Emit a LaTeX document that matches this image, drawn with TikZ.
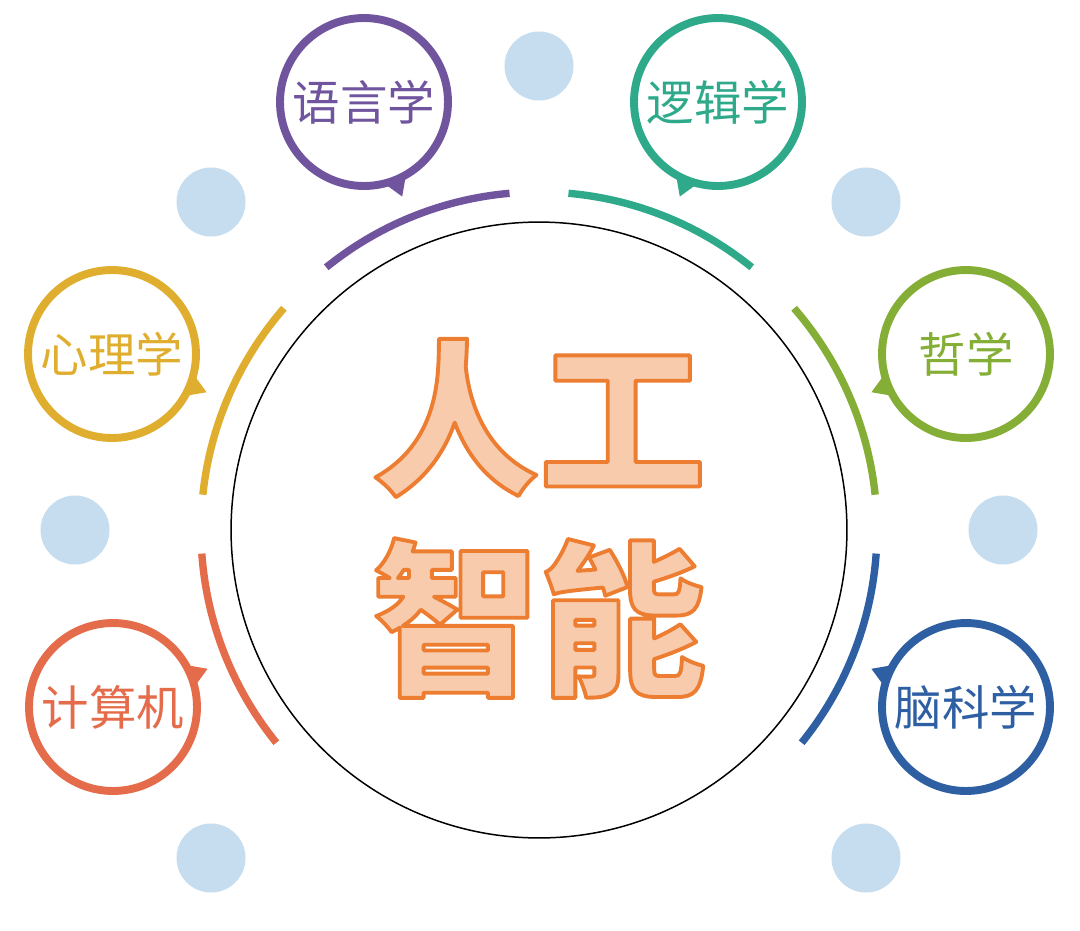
\documentclass[tikz,border=0pt]{standalone}
\usepackage{fontspec}
\usepackage{xcolor}
\newfontfamily\cjk{Noto Sans CJK SC}
\usetikzlibrary{calc,positioning,shapes}
\definecolor{yuyanc}{HTML}{70549E}
\definecolor{luojic}{HTML}{2EAA8A}
\definecolor{xinlic}{HTML}{E0AE2E}
\definecolor{zhexuec}{HTML}{84AE35}
\definecolor{jisuanc}{HTML}{E46C4B}
\definecolor{naokec}{HTML}{2E5FA3}
\definecolor{dotblue}{HTML}{C6DDF0}
\definecolor{peach}{HTML}{F8CBAD}
\newcommand\strokedtext[1]{\special{pdf:literal direct 1 j 1 J 2.2 w 0.929 0.490 0.192 RG 2 Tr}#1\special{pdf:literal direct 0 Tr}}
\tikzset{
bubble/.style={
  circle,
  draw=#1,
  line width=4.5pt,
  minimum size=3.36cm,
  inner sep=0pt,
  text=#1,
  font=\cjk\fontsize{27}{27}\selectfont
},
ring/.style={line width=4.2pt, draw=#1},
bluedot/.style={circle, fill=dotblue, minimum size=1.38cm, inner sep=0pt},
bigtext/.style={text=peach, inner sep=0pt, font=\cjk\bfseries\fontsize{95}{95}\selectfont},
}

\begin{document}
\begin{tikzpicture}[x=0.02cm, y=0.02cm]
    \useasboundingbox (0,0) rectangle (1080,-931);
    \node[circle, draw, line width=0.85pt, minimum size=12.32cm] (ai) at (539,-530) {};
    \node[bigtext] (rengong) at (539,-418) {\strokedtext{人工}};
    \node[bigtext] (zhineng) at (539,-618) {\strokedtext{智能}};

    \node[bluedot] (d1) at (539,-66) {};
    \node[bluedot] (d2) at (211,-202) {};
    \node[bluedot] (d3) at (866,-202) {};
    \node[bluedot] (d4) at (75,-530) {};
    \node[bluedot] (d5) at (1003,-530) {};
    \node[bluedot] (d6) at (211,-858) {};
    \node[bluedot] (d7) at (866,-858) {};

    \draw[ring=yuyanc] ($(ai)+(95:338)$) arc[start angle=95, end angle=129, radius=338];
    \draw[ring=luojic] ($(ai)+(51:338)$) arc[start angle=51, end angle=85, radius=338];
    \draw[ring=zhexuec] ($(ai)+(6:338)$) arc[start angle=6, end angle=41, radius=338];
    \draw[ring=naokec] ($(ai)+(-39:338)$) arc[start angle=-39, end angle=-4, radius=338];
    \draw[ring=jisuanc] ($(ai)+(184:338)$) arc[start angle=184, end angle=219, radius=338];
    \draw[ring=xinlic] ($(ai)+(139:338)$) arc[start angle=139, end angle=174, radius=338];

    \node[bubble=yuyanc] (yuyan) at (364,-102) {语言学};
    \node[bubble=luojic] (luoji) at (718,-102) {逻辑学};
    \node[bubble=xinlic] (xinli) at (112,-354) {心理学};
    \node[bubble=zhexuec] (zhexue) at (966,-354) {哲学};
    \node[bubble=jisuanc] (jisuan) at (113,-707) {计算机};
    \node[bubble=naokec] (naoke) at (966,-707) {脑科学};

    \fill[yuyanc] ($(yuyan)+(-60:84)$) -- ($(yuyan)+(-68:102)$) -- ($(yuyan)+(-76:84)$) -- cycle;
    \fill[luojic] ($(luoji)+(-120:84)$) -- ($(luoji)+(-112:102)$) -- ($(luoji)+(-104:84)$) -- cycle;
    \fill[xinlic] ($(xinli)+(-14:84)$) -- ($(xinli)+(-22:102)$) -- ($(xinli)+(-30:84)$) -- cycle;
    \fill[zhexuec] ($(zhexue)+(-166:84)$) -- ($(zhexue)+(-158:102)$) -- ($(zhexue)+(-150:84)$) -- cycle;
    \fill[jisuanc] ($(jisuan)+(14:84)$) -- ($(jisuan)+(22:102)$) -- ($(jisuan)+(30:84)$) -- cycle;
    \fill[naokec] ($(naoke)+(166:84)$) -- ($(naoke)+(158:102)$) -- ($(naoke)+(150:84)$) -- cycle;
\end{tikzpicture}
\end{document}
